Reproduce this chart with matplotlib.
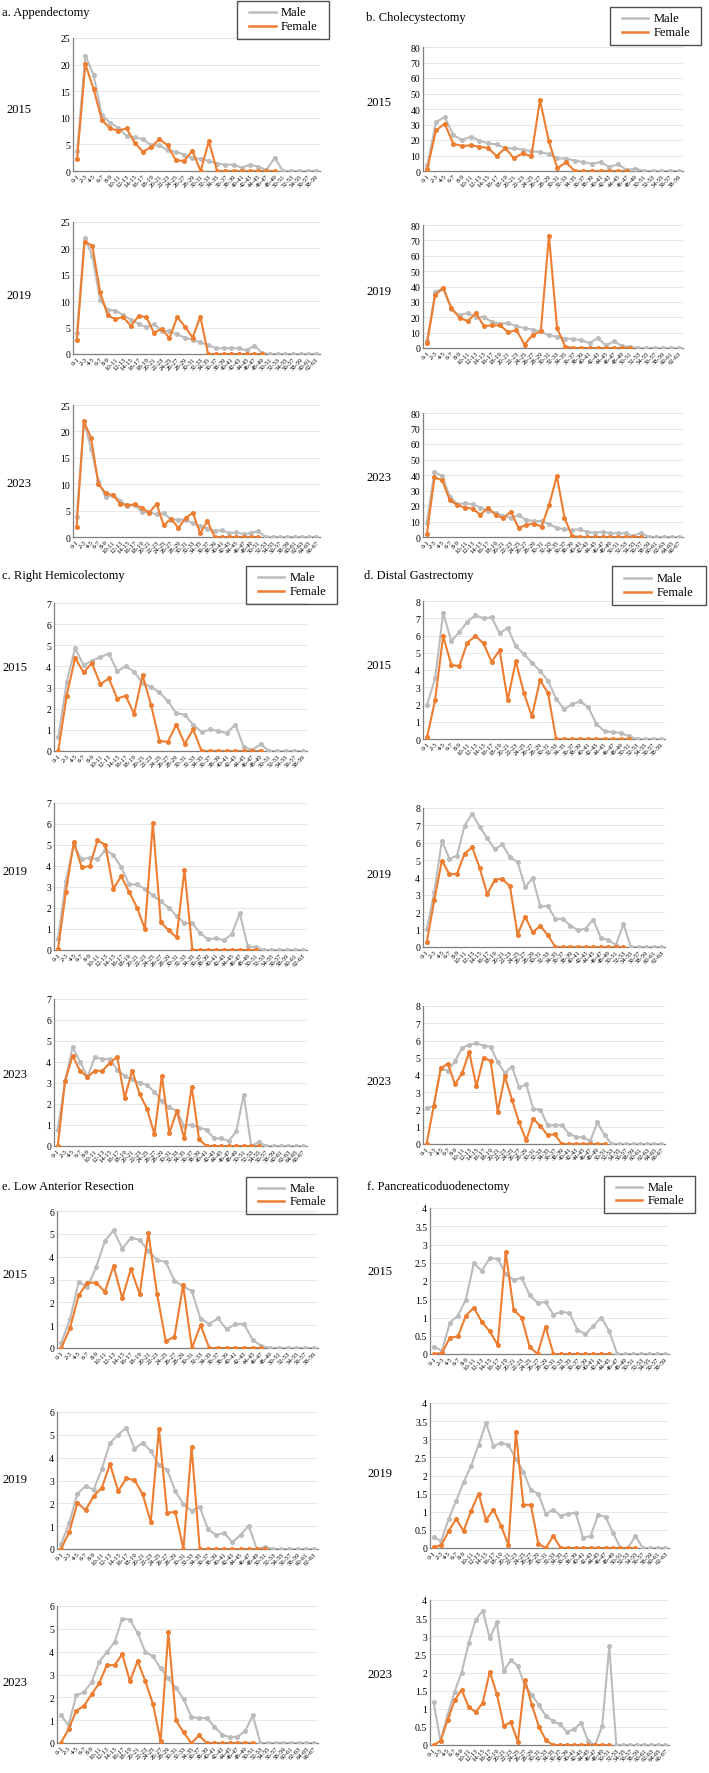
import matplotlib
matplotlib.use("Agg")
import matplotlib.pyplot as plt
from matplotlib.lines import Line2D
from matplotlib.patches import Rectangle

plt.rcParams['font.family'] = ['Liberation Serif', 'DejaVu Serif']

years = [2015, 2019, 2023]
n_groups = {2015: 30, 2019: 32, 2023: 34}
age_groups = {y: [f"{2*i}-{2*i+1}" for i in range(n)] for y, n in n_groups.items()}

# a. Appendectomy
app_male_2015 = [3.7, 21.7, 18.0, 10.5, 9.1, 8.1, 6.6, 6.3, 6.0, 4.8, 4.8, 3.9, 3.6, 3.1, 2.4, 2.3, 1.9, 1.4, 1.2, 1.2,
                 0.6, 1.2, 0.8, 0.2, 2.5, 0, 0, 0, 0, 0]
app_female_2015 = [2.3, 20.1, 15.4, 9.6, 8.0, 7.6, 8.0, 5.3, 3.6, 4.5, 6.0, 4.8, 2.0, 1.9, 3.8, 0, 5.6, 0, 0, 0,
                   0, 0, 0, 0, 0]
app_male_2019 = [4.0, 22.0, 18.6, 10.3, 8.4, 8.2, 7.4, 6.5, 5.7, 5.1, 5.6, 4.4, 4.3, 3.7, 3.1, 2.7, 2.2, 1.7, 1.1, 1.1,
                 1.1, 1.1, 0.7, 1.6, 0.2, 0, 0, 0, 0, 0, 0, 0]
app_female_2019 = [2.6, 21.3, 20.5, 11.8, 7.3, 6.6, 7.0, 5.3, 7.2, 7.0, 4.0, 4.8, 3.0, 7.0, 5.2, 3.1, 7.1, 0, 0, 0,
                   0, 0, 0, 0, 0]
app_male_2023 = [3.8, 21.9, 16.6, 10.6, 7.5, 8.0, 6.9, 5.8, 6.1, 4.7, 4.7, 4.3, 4.5, 3.3, 3.3, 3.3, 2.6, 2.0, 1.6, 1.1,
                 1.3, 0.7, 0.9, 0.5, 0.8, 1.1, 0, 0, 0, 0, 0, 0, 0, 0]
app_female_2023 = [1.9, 21.9, 18.7, 10.0, 8.3, 7.9, 6.3, 6.0, 6.2, 5.5, 4.6, 6.3, 2.2, 3.5, 1.7, 3.6, 4.6, 0.7, 3.0, 0,
                   0, 0, 0, 0, 0, 0]

# b. Cholecystectomy
cho_male_2015 = [3.9, 31.6, 34.8, 23.2, 20.0, 22.2, 19.6, 17.8, 17.2, 14.8, 14.6, 13.8, 12.7, 12.3, 10.8, 8.2, 8.0, 6.7,
                 5.8, 4.7, 5.8, 2.6, 4.3, 0.6, 1.5, 0, 0, 0, 0, 0]
cho_female_2015 = [1.5, 26.2, 30.5, 17.6, 16.1, 16.6, 15.7, 14.8, 9.7, 14.8, 8.2, 11.4, 9.5, 45.8, 19.6, 1.7, 5.6, 0,
                   0, 0, 0, 0, 0, 0]
cho_male_2019 = [4.5, 36.3, 38.9, 25.1, 21.2, 22.9, 20.1, 20.1, 16.9, 15.8, 16.2, 14.1, 13.0, 11.9, 10.8, 8.2, 7.4, 6.1,
                 5.8, 5.0, 3.2, 6.5, 1.7, 4.3, 1.3, 0.6, 0, 0, 0, 0, 0, 0]
cho_female_2019 = [3.2, 34.6, 38.9, 25.9, 19.7, 17.5, 22.7, 14.3, 14.7, 14.7, 10.2, 11.7, 2.2, 8.6, 10.8, 73.1, 13.0,
                   0.9, 0, 0, 0, 0, 0, 0, 0, 0]
cho_male_2023 = [9.3, 42.0, 39.4, 26.1, 21.1, 21.8, 21.1, 19.0, 16.8, 15.7, 13.6, 12.5, 14.0, 11.0, 10.3, 10.3, 8.2, 5.8,
                 5.0, 4.5, 5.0, 3.2, 2.8, 3.4, 2.4, 2.4, 2.4, 0.6, 2.8, 0, 0, 0, 0, 0]
cho_female_2023 = [1.7, 38.4, 36.6, 23.9, 20.5, 19.0, 18.3, 14.4, 18.8, 14.2, 12.1, 16.4, 5.8, 7.8, 8.6, 6.7, 20.7,
                   39.4, 12.5, 0.6, 0, 0, 0, 0, 0, 0, 0, 0, 0]

# c. Right Hemicolectomy
rh_male_2015 = [0.65, 3.25, 4.87, 4.06, 4.27, 4.44, 4.61, 3.77, 4.01, 3.75, 3.21, 3.04, 2.77, 2.36, 1.79, 1.71, 1.25,
                0.9, 1.02, 0.94, 0.85, 1.25, 0.19, 0.05, 0.32, 0, 0, 0, 0, 0]
rh_female_2015 = [0, 2.61, 4.4, 3.72, 4.15, 3.16, 3.43, 2.48, 2.61, 1.76, 3.59, 2.19, 0.48, 0.43, 1.25, 0.34, 1.02, 0,
                  0, 0, 0, 0, 0, 0, 0]
rh_male_2019 = [0.51, 3.29, 5.0, 4.31, 4.4, 4.31, 4.76, 4.53, 3.94, 3.12, 3.12, 2.91, 2.6, 2.31, 2.02, 1.63, 1.28, 1.27,
                0.8, 0.51, 0.56, 0.46, 0.77, 1.75, 0.17, 0.14, 0, 0, 0, 0, 0, 0]
rh_female_2019 = [0.03, 2.77, 5.13, 3.94, 3.99, 5.22, 5.0, 2.91, 3.51, 2.77, 2.02, 1.0, 6.05, 1.32, 0.94, 0.6, 3.82, 0,
                  0, 0, 0, 0, 0, 0, 0, 0]
rh_male_2023 = [0.78, 3.11, 4.7, 4.02, 3.29, 4.24, 4.14, 4.14, 3.63, 3.34, 3.17, 3.0, 2.91, 2.57, 2.15, 1.84, 1.67,
                0.95, 1.02, 0.87, 0.78, 0.36, 0.36, 0.24, 0.7, 2.45, 0, 0.19, 0, 0, 0, 0, 0, 0]
rh_female_2023 = [0, 3.11, 4.3, 3.58, 3.29, 3.58, 3.58, 3.96, 4.24, 2.28, 3.58, 2.49, 1.76, 0.56, 3.34, 0.61, 1.67,
                  0.36, 2.83, 0.31, 0, 0, 0, 0, 0, 0, 0, 0]

# d. Distal Gastrectomy
dg_male_2015 = [1.98, 3.51, 7.31, 5.68, 6.2, 6.8, 7.17, 7.0, 7.05, 6.13, 6.44, 5.38, 4.93, 4.43, 3.95, 3.37, 2.33, 1.73,
                2.02, 2.18, 1.83, 0.87, 0.44, 0.4, 0.35, 0.17, 0, 0, 0, 0]
dg_female_2015 = [0.1, 2.25, 5.97, 4.3, 4.22, 5.59, 5.97, 5.55, 4.47, 5.14, 2.25, 4.51, 2.68, 1.31, 3.41, 2.66, 0, 0, 0,
                  0, 0, 0, 0, 0, 0, 0]
dg_male_2019 = [1.02, 3.18, 6.11, 5.07, 5.26, 6.99, 7.67, 6.92, 6.26, 5.63, 5.9, 5.16, 4.91, 3.45, 3.97, 2.35, 2.35,
                1.62, 1.62, 1.23, 0.96, 1.06, 1.58, 0.54, 0.4, 0.12, 1.31, 0, 0, 0, 0, 0]
dg_female_2019 = [0.27, 2.72, 4.97, 4.18, 4.22, 5.38, 5.74, 4.55, 3.04, 3.87, 3.93, 3.49, 0.71, 1.75, 0.85, 1.21, 0.69,
                  0, 0, 0, 0, 0, 0, 0, 0, 0, 0]
dg_male_2023 = [2.07, 2.19, 4.39, 4.24, 4.81, 5.58, 5.75, 5.85, 5.7, 5.64, 4.74, 4.12, 4.49, 3.28, 3.45, 2.03, 1.99,
                1.09, 1.09, 1.09, 0.59, 0.42, 0.38, 0.17, 1.25, 0.52, 0, 0, 0, 0, 0, 0, 0, 0]
dg_female_2023 = [0, 2.19, 4.39, 4.66, 3.45, 4.12, 5.33, 3.34, 5.01, 4.81, 1.88, 3.93, 2.57, 1.25, 0.21, 1.46, 1.04,
                  0.52, 0.56, 0, 0, 0, 0, 0, 0, 0]

# e. Low Anterior Resection
lar_male_2015 = [0.23, 1.28, 2.89, 2.67, 3.54, 4.68, 5.16, 4.35, 4.82, 4.74, 4.25, 3.86, 3.77, 2.95, 2.7, 2.49, 1.28,
                 1.05, 1.3, 0.82, 1.05, 1.05, 0.35, 0.09, 0, 0, 0, 0, 0, 0]
lar_female_2015 = [0, 0.88, 2.32, 2.86, 2.86, 2.46, 3.6, 2.18, 3.47, 2.35, 5.05, 2.37, 0.3, 0.49, 2.75, 0, 1.0, 0, 0,
                   0, 0, 0, 0, 0]
lar_male_2019 = [0.21, 1.14, 2.42, 2.75, 2.6, 3.51, 4.65, 5.0, 5.32, 4.39, 4.65, 4.3, 3.68, 3.47, 2.54, 1.96, 1.68, 1.84,
                 0.88, 0.61, 0.7, 0.3, 0.61, 1.02, 0, 0.09, 0, 0, 0, 0, 0, 0]
lar_female_2019 = [0, 0.74, 2.02, 1.7, 2.32, 2.68, 3.72, 2.54, 3.09, 3.02, 2.4, 1.18, 5.26, 1.58, 1.63, 0, 4.47, 0, 0,
                   0, 0, 0, 0, 0, 0, 0]
lar_male_2023 = [1.23, 0.77, 2.09, 2.22, 2.66, 3.55, 3.98, 4.42, 5.45, 5.4, 4.82, 3.99, 3.8, 3.27, 2.83, 2.41, 1.92, 1.13,
                 1.09, 1.09, 0.72, 0.37, 0.25, 0.28, 0.51, 1.21, 0, 0, 0, 0, 0, 0, 0, 0]
lar_female_2023 = [0, 0.6, 1.41, 1.62, 2.13, 2.62, 3.41, 3.41, 3.89, 2.71, 3.59, 2.71, 1.71, 0.07, 4.86, 0.99, 0.46, 0,
                   0.33, 0, 0, 0, 0, 0, 0, 0]

# f. Pancreaticoduodenectomy
pd_male_2015 = [0.2, 0.09, 0.86, 1.05, 1.49, 2.48, 2.28, 2.62, 2.61, 2.2, 2.02, 2.09, 1.62, 1.4, 1.42, 1.08, 1.16, 1.12,
                0.67, 0.54, 0.77, 1.0, 0.63, 0, 0, 0, 0, 0, 0, 0]
pd_female_2015 = [0, 0.03, 0.45, 0.48, 1.05, 1.27, 0.88, 0.62, 0.25, 2.79, 1.21, 1.0, 0.2, 0, 0.75, 0, 0, 0, 0, 0, 0,
                  0, 0]
pd_male_2019 = [0.29, 0.2, 0.8, 1.3, 1.82, 2.26, 2.84, 3.45, 2.81, 2.9, 2.84, 2.46, 2.1, 1.6, 1.5, 0.94, 1.06, 0.88,
                0.95, 0.97, 0.28, 0.33, 0.91, 0.86, 0.42, 0, 0, 0.33, 0, 0, 0, 0]
pd_female_2019 = [0.03, 0.07, 0.47, 0.8, 0.47, 1.02, 1.5, 0.77, 1.06, 0.62, 0.09, 3.2, 1.19, 1.19, 0.12, 0, 0.33, 0, 0,
                  0, 0, 0, 0, 0, 0, 0, 0, 0]
pd_male_2023 = [1.19, 0.11, 0.83, 1.47, 2.0, 2.81, 3.45, 3.71, 2.95, 3.38, 2.04, 2.34, 2.18, 1.63, 1.38, 1.1, 0.8, 0.66,
                0.57, 0.36, 0.44, 0.61, 0.11, 0, 0.53, 2.72, 0, 0, 0, 0, 0, 0, 0, 0]
pd_female_2023 = [0, 0.11, 0.69, 1.23, 1.52, 1.05, 0.91, 1.16, 2.02, 1.41, 0.53, 0.63, 0.09, 1.8, 1.1, 0.5, 0.13, 0, 0,
                  0, 0, 0, 0, 0, 0, 0]

panels = [
    ("a. Appendectomy", [app_male_2015, app_male_2019, app_male_2023],
     [app_female_2015, app_female_2019, app_female_2023], 25, 5),
    ("b. Cholecystectomy", [cho_male_2015, cho_male_2019, cho_male_2023],
     [cho_female_2015, cho_female_2019, cho_female_2023], 80, 10),
    ("c. Right Hemicolectomy", [rh_male_2015, rh_male_2019, rh_male_2023],
     [rh_female_2015, rh_female_2019, rh_female_2023], 7, 1),
    ("d. Distal Gastrectomy", [dg_male_2015, dg_male_2019, dg_male_2023],
     [dg_female_2015, dg_female_2019, dg_female_2023], 8, 1),
    ("e. Low Anterior Resection", [lar_male_2015, lar_male_2019, lar_male_2023],
     [lar_female_2015, lar_female_2019, lar_female_2023], 6, 1),
    ("f. Pancreaticoduodenectomy", [pd_male_2015, pd_male_2019, pd_male_2023],
     [pd_female_2015, pd_female_2019, pd_female_2023], 4, 0.5),
]

# layout in pixels of the 709x1774 picture
W, H = 709, 1774
layout = [
    dict(title=(2, 13), legend=(237, 2, 329, 40), xr=(73, 320),
         yr=[(39, 172), (223, 355), (406, 538)], yl=(19, [110, 296, 484])),
    dict(title=(366, 18), legend=(610, 8, 701, 46), xr=(423, 683),
         yr=[(48, 172), (226, 349), (414, 538)], yl=(379, [103, 292, 478])),
    dict(title=(2, 576), legend=(246, 567, 337, 605), xr=(54, 307),
         yr=[(604, 752), (804, 951), (1000, 1147)], yl=(15, [668, 872, 1075])),
    dict(title=(364, 576), legend=(612, 567, 706, 606), xr=(423, 665),
         yr=[(602, 740), (809, 948), (1007, 1145)], yl=(379, [666, 875, 1082])),
    dict(title=(2, 1187), legend=(246, 1178, 337, 1215), xr=(57, 318),
         yr=[(1212, 1349), (1413, 1550), (1607, 1744)], yl=(15, [1275, 1480, 1683])),
    dict(title=(367, 1187), legend=(604, 1177, 695, 1214), xr=(430, 669),
         yr=[(1209, 1355), (1404, 1549), (1601, 1746)], yl=(380, [1272, 1474, 1675])),
]

MALE = '#bcbcbc'
FEMALE = '#ed7d31'

fig = plt.figure(figsize=(W / 100, H / 100), dpi=100)


def fx(px):
    return px / W


def fy(py):
    return 1 - py / H


for (title, males, females, ymax, ystep), lay in zip(panels, layout):
    fig.text(fx(lay['title'][0]), fy(lay['title'][1]), title, fontsize=9, va='center', ha='left')

    # legend box
    lx0, ly0, lx1, ly1 = lay['legend']
    fig.add_artist(Rectangle((fx(lx0), fy(ly1)), fx(lx1) - fx(lx0), fy(ly0) - fy(ly1),
                             transform=fig.transFigure, fill=False, ec='#505050', lw=1.0))
    lw_ = lx1 - lx0
    lh_ = ly1 - ly0
    for k, (lab, col) in enumerate([("Male", MALE), ("Female", FEMALE)]):
        yy = ly0 + lh_ * (0.30 + 0.36 * k)
        fig.add_artist(Line2D([fx(lx0 + 0.13 * lw_), fx(lx0 + 0.42 * lw_)], [fy(yy), fy(yy)],
                              transform=fig.transFigure, color=col, lw=1.8))
        fig.text(fx(lx0 + 0.48 * lw_), fy(yy), lab, fontsize=9, va='center', ha='left')

    x0, x1 = lay['xr']
    ylx, ylys = lay['yl']
    for yi, year in enumerate(years):
        top, bot = lay['yr'][yi]
        ax = fig.add_axes([fx(x0), fy(bot), fx(x1) - fx(x0), fy(top) - fy(bot)])
        n = n_groups[year]
        male = males[yi]
        female = females[yi]
        ax.plot(range(len(male)), male, color=MALE, lw=1.5, marker='o', ms=2.6, zorder=3)
        ax.plot(range(len(female)), female, color=FEMALE, lw=1.5, marker='o', ms=2.6, zorder=4)
        ax.set_xlim(-0.5, n - 0.5)
        ax.set_ylim(0, ymax)
        ticks = [ystep * k for k in range(int(round(ymax / ystep)) + 1)]
        ax.set_yticks(ticks)
        ax.set_yticklabels([f"{t:g}" for t in ticks], fontsize=7)
        ax.set_xticks(range(n))
        ax.set_xticklabels(age_groups[year], fontsize=4.8, rotation=45, ha='right', rotation_mode='anchor')
        ax.tick_params(length=0, pad=2)
        ax.tick_params(axis='x', pad=1.5)
        ax.grid(axis='y', color='#e3e3e3', lw=0.6)
        ax.set_axisbelow(True)
        for s in ['top', 'right']:
            ax.spines[s].set_visible(False)
        for s in ['left', 'bottom']:
            ax.spines[s].set_color('#7f7f7f')
            ax.spines[s].set_linewidth(0.9)
        fig.text(fx(ylx), fy(ylys[yi]), str(year), fontsize=9, ha='center', va='center')

fig.savefig("out.png", dpi=100)
